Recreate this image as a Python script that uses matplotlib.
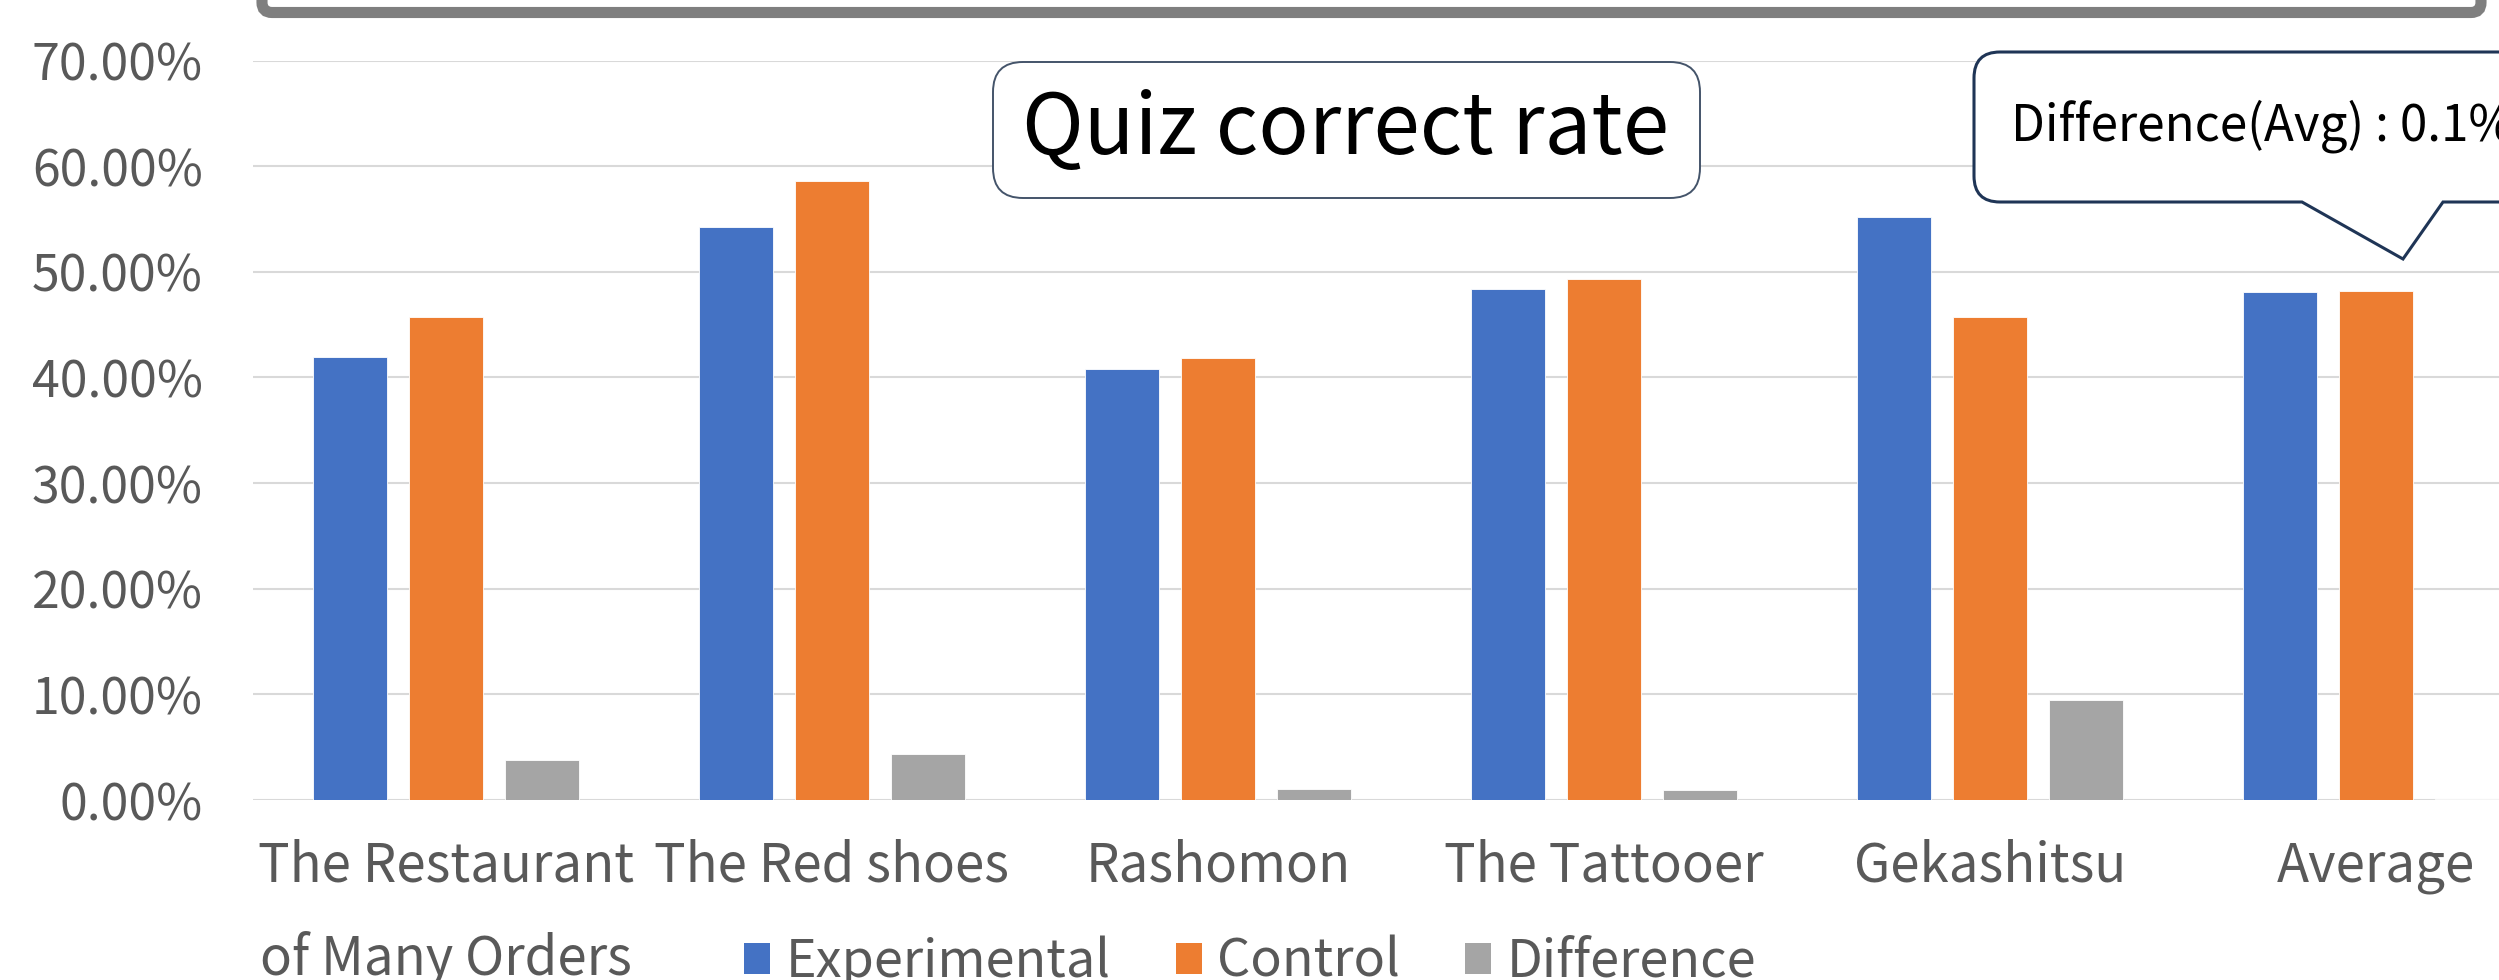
import matplotlib
matplotlib.use("Agg")
import matplotlib.pyplot as plt
from matplotlib.patches import Patch, PathPatch, FancyBboxPatch
from matplotlib.path import Path
from matplotlib.transforms import Affine2D
import numpy as np

plt.rcParams['font.family'] = ['Noto Sans CJK JP', 'DejaVu Sans']

categories = ["The Restaurant\nof Many Orders", "The Red shoes", "Rashomon",
              "The Tattooer", "Gekashitsu", "Average"]
experimental = [0.4192, 0.5429, 0.4079, 0.4839, 0.5517, 0.4808]
control = [0.4568, 0.5861, 0.4180, 0.4937, 0.4568, 0.4817]
difference = [0.0376, 0.0432, 0.0101, 0.0098, 0.0949, 0.0009]
series_names = ["Experimental", "Control", "Difference"]
colors = ["#4472C4", "#ED7D31", "#A5A5A5"]
yticks = [0.0, 0.1, 0.2, 0.3, 0.4, 0.5, 0.6, 0.7]

W, H = 2499, 980
fig = plt.figure(figsize=(W / 100, H / 100), dpi=100)
# pixel coords with origin at top-left, for the decoration shapes
px = Affine2D().scale(1.0 / W, -1.0 / H).translate(0, 1) + fig.transFigure

ax = fig.add_axes([253 / W, 1 - 800 / H, 6 * 386 / W, (800 - 60.6) / H])
x = np.arange(len(categories))
bw = 0.19
step = 0.249
for i, (vals, c) in enumerate(zip([experimental, control, difference], colors)):
    ax.bar(x + (i - 1) * step, vals, width=bw, color=c, edgecolor='white',
           linewidth=0.6, zorder=3, label=series_names[i])

ax.set_xlim(-0.5, len(categories) - 0.5)
ax.set_ylim(0, 0.7)
ax.set_yticks(yticks)
ax.set_yticklabels(["%.2f%%" % (v * 100) for v in yticks])
ax.set_xticks(x)
ax.set_xticklabels(categories)
ax.grid(axis='y', color='#D9D9D9', linewidth=1.5, zorder=0)
ax.set_axisbelow(True)
for s in ax.spines.values():
    s.set_visible(False)
ax.tick_params(axis='both', length=0, colors='#595959')
ax.tick_params(axis='y', labelsize=36, pad=36)
ax.tick_params(axis='x', labelsize=38, pad=28)
for t in ax.get_xticklabels():
    t.set_linespacing(1.85)
    t.set_color('#595959')

# legend
handles = [Patch(facecolor=c, edgecolor='none') for c in colors]
fig.legend(handles, series_names, loc='center left',
           bbox_to_anchor=(744 / W, 1 - 962 / H), ncol=3, frameon=False,
           fontsize=37.5, handlelength=0.5, handleheight=0.55,
           handletextpad=0.3, columnspacing=1.25, borderpad=0,
           borderaxespad=0, labelcolor='#595959')

# gray frame at the top (bottom edge of an outer box)
r = 10
verts = [(262, -40), (262, 12.5 - r), (262, 12.5), (262 + r, 12.5),
         (2481 - r, 12.5), (2481, 12.5), (2481, 12.5 - r), (2481, -40)]
codes = [Path.MOVETO, Path.LINETO, Path.CURVE3, Path.CURVE3,
         Path.LINETO, Path.CURVE3, Path.CURVE3, Path.LINETO]
fig.add_artist(PathPatch(Path(verts, codes), transform=px, fill=False,
                         edgecolor='#7F7F7F', linewidth=8, clip_on=False))

# title box
tb = FancyBboxPatch((993 / W, 1 - 198 / H), (1700 - 993) / W, (198 - 62) / H,
                    boxstyle="round,pad=0,rounding_size=0.012",
                    transform=fig.transFigure, facecolor='white',
                    edgecolor='#44546A', linewidth=1.4, zorder=5,
                    mutation_aspect=W / H)
fig.add_artist(tb)
fig.text(1346 / W, 1 - 130 / H, "Quiz correct rate", ha='center', va='center',
         fontsize=60, color='black', zorder=6)

# callout box
r = 26
L, T, B = 1974, 52, 202
verts = [(2600, T), (L + r, T), (L, T), (L, T + r), (L, B - r), (L, B),
         (L + r, B), (2302, B), (2403, 259), (2443, B), (2600, B), (2600, T)]
codes = [Path.MOVETO, Path.LINETO, Path.CURVE3, Path.CURVE3, Path.LINETO,
         Path.CURVE3, Path.CURVE3, Path.LINETO, Path.LINETO, Path.LINETO,
         Path.LINETO, Path.CLOSEPOLY]
fig.add_artist(PathPatch(Path(verts, codes), transform=px, facecolor='white',
                         edgecolor='#1F3556', linewidth=2.2, zorder=5,
                         clip_on=False))
fig.text(2011 / W, 1 - 126 / H, "Difference(Avg) : 0.1%", ha='left',
         va='center', fontsize=35.5, color='black', zorder=6)

fig.savefig("out.png", dpi=100)
